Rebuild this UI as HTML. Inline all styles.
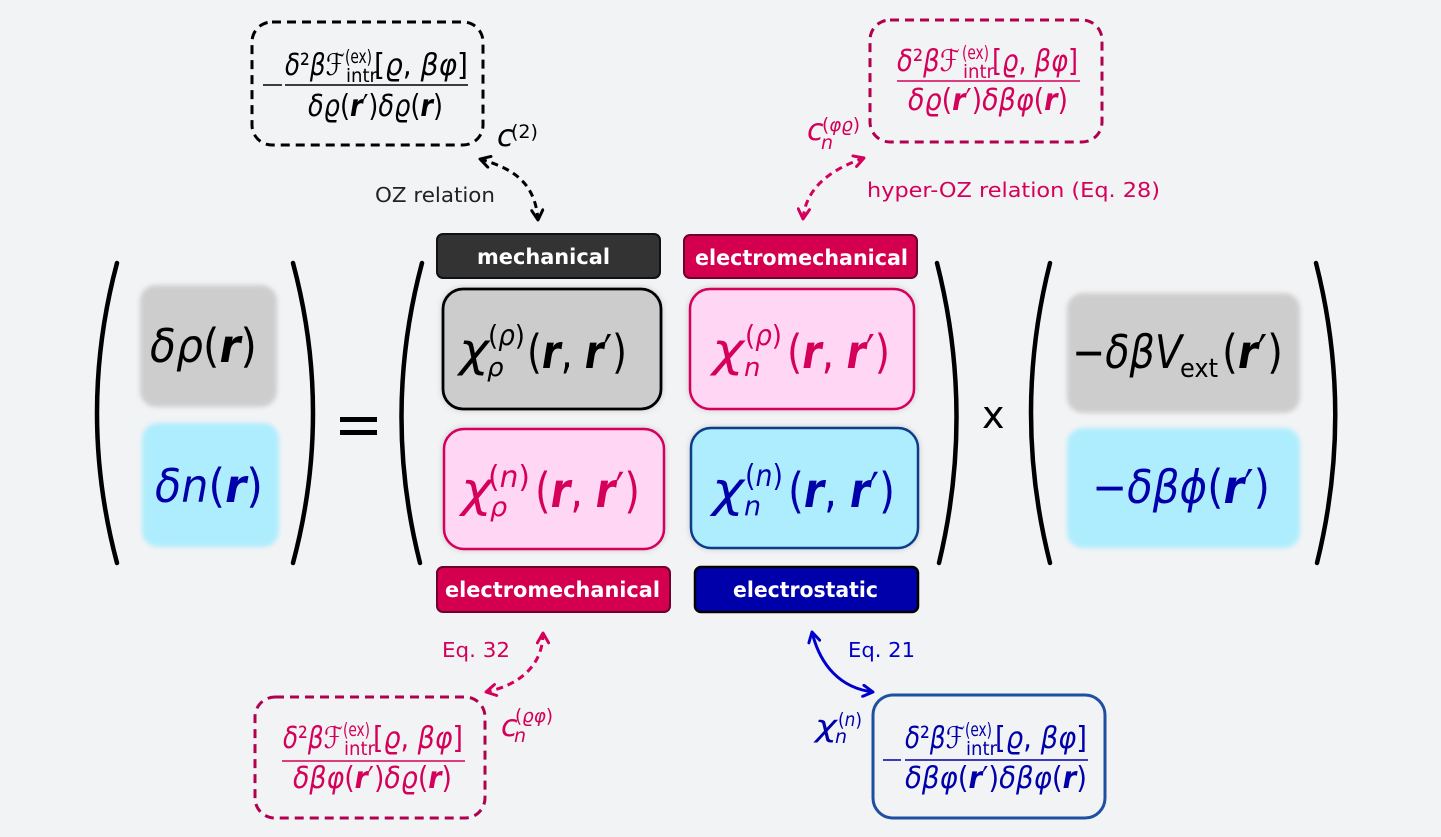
<!DOCTYPE html>
<html>
<head>
<meta charset="utf-8">
<style>
  html,body{margin:0;padding:0;background:#f2f3f5;}
  svg{display:block;}
  text{font-family:"DejaVu Sans","Liberation Sans",sans-serif;}
  .i{font-style:italic;}
  .bi{font-style:italic;font-weight:bold;}
  .lb{font-weight:bold;fill:#fff;font-size:21px;}
</style>
</head>
<body>
<svg width="1441" height="837" viewBox="0 0 1441 837" xmlns="http://www.w3.org/2000/svg">
  <defs>
    <filter id="bl" x="-10%" y="-10%" width="120%" height="120%">
      <feGaussianBlur stdDeviation="2.5"/>
    </filter>
    <filter id="sh" x="-10%" y="-10%" width="120%" height="120%">
      <feDropShadow dx="0" dy="0" stdDeviation="3" flood-color="#000" flood-opacity="0.18"/>
    </filter>
    <marker id="mk" viewBox="0 0 10 10" refX="8.5" refY="5" markerWidth="14" markerHeight="14" markerUnits="userSpaceOnUse" orient="auto-start-reverse">
      <path d="M1.5,1 L8.5,5 L1.5,9" fill="none" stroke="#000" stroke-width="2.1" stroke-dasharray="none" stroke-linecap="round" stroke-linejoin="round"/>
    </marker>
    <marker id="mc" viewBox="0 0 10 10" refX="8.5" refY="5" markerWidth="14" markerHeight="14" markerUnits="userSpaceOnUse" orient="auto-start-reverse">
      <path d="M1.5,1 L8.5,5 L1.5,9" fill="none" stroke="#d4005a" stroke-width="2.1" stroke-dasharray="none" stroke-linecap="round" stroke-linejoin="round"/>
    </marker>
    <marker id="mb" viewBox="0 0 10 10" refX="8.5" refY="5" markerWidth="14" markerHeight="14" markerUnits="userSpaceOnUse" orient="auto-start-reverse">
      <path d="M1.5,1 L8.5,5 L1.5,9" fill="none" stroke="#0000cc" stroke-width="2.1" stroke-dasharray="none" stroke-linecap="round" stroke-linejoin="round"/>
    </marker>
  </defs>

  <rect x="0" y="0" width="1441" height="837" fill="#f2f3f5"/>

  <!-- ===== Big parentheses ===== -->
  <g fill="none" stroke="#000" stroke-width="4.5" stroke-linecap="round">
    <path d="M117,263 Q77,413 117,563"/>
    <path d="M293,263 Q333,413 293,563"/>
    <path d="M422,263 Q382,413 420,563"/>
    <path d="M937,263 Q975,413 939,563"/>
    <path d="M1050,263 Q1012,413 1050,563"/>
    <path d="M1316,263 Q1354,413 1317,563"/>
  </g>

  <!-- ===== Left vector ===== -->
  <rect x="140" y="285" width="137" height="122" rx="16" fill="#cdcdcd" filter="url(#bl)"/>
  <rect x="142" y="423" width="137" height="124" rx="16" fill="#aeedfd" filter="url(#bl)"/>
  <text x="150" y="362" font-size="46" fill="#000" textLength="107" lengthAdjust="spacingAndGlyphs"><tspan class="i">δρ</tspan>(<tspan class="bi">r</tspan>)</text>
  <text x="155" y="502" font-size="46" fill="#0000aa" textLength="108" lengthAdjust="spacingAndGlyphs"><tspan class="i">δn</tspan>(<tspan class="bi">r</tspan>)</text>

  <!-- equals -->
  <rect x="340" y="417" width="37" height="5" fill="#000"/>
  <rect x="340" y="430" width="37" height="5" fill="#000"/>

  <!-- x -->
  <text x="982" y="428" font-size="38" fill="#000">x</text>

  <!-- ===== Right vector ===== -->
  <rect x="1067" y="293" width="233" height="120" rx="16" fill="#cdcdcd" filter="url(#bl)"/>
  <rect x="1067" y="428" width="233" height="120" rx="16" fill="#aeedfd" filter="url(#bl)"/>
  <text x="1072" y="368" font-size="46" fill="#000" textLength="110" lengthAdjust="spacingAndGlyphs">−<tspan class="i">δβV</tspan></text>
  <text x="1180" y="377" font-size="26" fill="#000" textLength="38" lengthAdjust="spacingAndGlyphs">ext</text>
  <text x="1222" y="368" font-size="46" fill="#000" textLength="61" lengthAdjust="spacingAndGlyphs">(<tspan class="bi">r</tspan>′)</text>
  <text x="1092" y="503" font-size="46" fill="#0000aa" textLength="178" lengthAdjust="spacingAndGlyphs">−<tspan class="i">δβϕ</tspan>(<tspan class="bi">r</tspan>′)</text>

  <!-- ===== Matrix labels ===== -->
  <rect x="437" y="234" width="223" height="44" rx="6" fill="#333333" stroke="#111" stroke-width="2"/>
  <text class="lb" x="477" y="264" textLength="133" lengthAdjust="spacingAndGlyphs">mechanical</text>

  <rect x="684" y="235" width="233" height="43" rx="6" fill="#d4004f" stroke="#6e0030" stroke-width="2"/>
  <text class="lb" x="695" y="265" textLength="213" lengthAdjust="spacingAndGlyphs">electromechanical</text>

  <rect x="437" y="567" width="233" height="45" rx="6" fill="#d4004f" stroke="#6e0030" stroke-width="2"/>
  <text class="lb" x="445" y="597" textLength="215" lengthAdjust="spacingAndGlyphs">electromechanical</text>

  <rect x="695" y="567" width="223" height="45" rx="6" fill="#0000aa" stroke="#000" stroke-width="2.5"/>
  <text class="lb" x="733" y="597" textLength="145" lengthAdjust="spacingAndGlyphs">electrostatic</text>

  <!-- ===== Matrix cells ===== -->
  <rect x="443" y="289" width="218" height="120" rx="20" fill="#cccccc" stroke="#000" stroke-width="2.8" filter="url(#sh)"/>
  <rect x="690" y="289" width="224" height="120" rx="20" fill="#ffd6f4" stroke="#d4005a" stroke-width="2.5" filter="url(#sh)"/>
  <rect x="444" y="429" width="220" height="120" rx="20" fill="#ffd6f4" stroke="#d4005a" stroke-width="2.5" filter="url(#sh)"/>
  <rect x="691" y="428" width="227" height="120" rx="20" fill="#aeedfd" stroke="#0d3d8a" stroke-width="2.5" filter="url(#sh)"/>

  <!-- cell 1 -->
  <g fill="#000">
    <text x="459" y="366" font-size="46" class="i" textLength="30" lengthAdjust="spacingAndGlyphs">χ</text>
    <text x="488" y="345" font-size="28" textLength="37" lengthAdjust="spacingAndGlyphs">(<tspan class="i">ρ</tspan>)</text>
    <text x="487" y="376" font-size="26" class="i">ρ</text>
    <text x="527" y="368" font-size="46" textLength="100" lengthAdjust="spacingAndGlyphs">(<tspan class="bi">r</tspan>, <tspan class="bi">r</tspan>′)</text>
  </g>
  <!-- cell 2 -->
  <g fill="#d4005a">
    <text x="712" y="366" font-size="46" class="i" textLength="32" lengthAdjust="spacingAndGlyphs">χ</text>
    <text x="745" y="345" font-size="28" textLength="37" lengthAdjust="spacingAndGlyphs">(<tspan class="i">ρ</tspan>)</text>
    <text x="744" y="376" font-size="26" class="i">n</text>
    <text x="787" y="368" font-size="46" textLength="103" lengthAdjust="spacingAndGlyphs">(<tspan class="bi">r</tspan>, <tspan class="bi">r</tspan>′)</text>
  </g>
  <!-- cell 3 -->
  <g fill="#d4005a">
    <text x="461" y="506" font-size="48" class="i" textLength="31" lengthAdjust="spacingAndGlyphs">χ</text>
    <text x="488" y="487" font-size="30" textLength="42" lengthAdjust="spacingAndGlyphs">(<tspan class="i">n</tspan>)</text>
    <text x="490" y="516" font-size="27" class="i">ρ</text>
    <text x="535" y="507" font-size="48" textLength="105" lengthAdjust="spacingAndGlyphs">(<tspan class="bi">r</tspan>, <tspan class="bi">r</tspan>′)</text>
  </g>
  <!-- cell 4 -->
  <g fill="#0000aa">
    <text x="712" y="506" font-size="48" class="i" textLength="32" lengthAdjust="spacingAndGlyphs">χ</text>
    <text x="745" y="486" font-size="30" textLength="38" lengthAdjust="spacingAndGlyphs">(<tspan class="i">n</tspan>)</text>
    <text x="744" y="515" font-size="27" class="i">n</text>
    <text x="788" y="507" font-size="48" textLength="107" lengthAdjust="spacingAndGlyphs">(<tspan class="bi">r</tspan>, <tspan class="bi">r</tspan>′)</text>
  </g>

  <!-- ===== Top-left dashed box ===== -->
  <rect x="252" y="22" width="231" height="123" rx="20" fill="none" stroke="#000" stroke-width="3" stroke-dasharray="9 6"/>
  <g fill="#000">
    <text x="285" y="75" font-size="30" textLength="60" lengthAdjust="spacingAndGlyphs"><tspan class="i">δ</tspan>²<tspan class="i">β</tspan>ℱ</text>
    <text x="345" y="63" font-size="19" textLength="27" lengthAdjust="spacingAndGlyphs">(ex)</text>
    <text x="346" y="82" font-size="19" textLength="31" lengthAdjust="spacingAndGlyphs">intr</text>
    <text x="374" y="75" font-size="30" textLength="94" lengthAdjust="spacingAndGlyphs">[<tspan class="i">ϱ</tspan>, <tspan class="i">βφ</tspan>]</text>
    <text x="308" y="116" font-size="30" textLength="135" lengthAdjust="spacingAndGlyphs"><tspan class="i">δϱ</tspan>(<tspan class="bi">r</tspan>′)<tspan class="i">δϱ</tspan>(<tspan class="bi">r</tspan>)</text>
  </g>
  <line x1="285" y1="85" x2="468" y2="85" stroke="#000" stroke-width="1.6"/>
  <line x1="263" y1="85" x2="282" y2="85" stroke="#000" stroke-width="1.6"/>

  <!-- c(2) label -->
  <text x="497" y="146" font-size="30" class="i" fill="#000">c</text>
  <text x="511" y="138" font-size="19" fill="#000" textLength="27" lengthAdjust="spacingAndGlyphs">(2)</text>
  <text x="375" y="202" font-size="20" fill="#222" textLength="120" lengthAdjust="spacingAndGlyphs">OZ relation</text>
  <path d="M480,159 C510,168 535,180 538,220" fill="none" stroke="#000" stroke-width="3" stroke-dasharray="7 5" marker-start="url(#mk)" marker-end="url(#mk)"/>

  <!-- ===== Top-right dashed box ===== -->
  <rect x="870" y="20" width="232" height="122" rx="20" fill="none" stroke="#b0004f" stroke-width="3" stroke-dasharray="9 6"/>
  <g fill="#d4005a">
    <text x="897" y="71" font-size="30" textLength="63" lengthAdjust="spacingAndGlyphs"><tspan class="i">δ</tspan>²<tspan class="i">β</tspan>ℱ</text>
    <text x="962" y="59" font-size="19" textLength="27" lengthAdjust="spacingAndGlyphs">(ex)</text>
    <text x="963" y="78" font-size="19" textLength="31" lengthAdjust="spacingAndGlyphs">intr</text>
    <text x="992" y="71" font-size="30" textLength="86" lengthAdjust="spacingAndGlyphs">[<tspan class="i">ϱ</tspan>, <tspan class="i">βφ</tspan>]</text>
    <text x="908" y="110" font-size="30" textLength="160" lengthAdjust="spacingAndGlyphs"><tspan class="i">δϱ</tspan>(<tspan class="bi">r</tspan>′)<tspan class="i">δβφ</tspan>(<tspan class="bi">r</tspan>)</text>
  </g>
  <line x1="897" y1="81" x2="1080" y2="81" stroke="#d4005a" stroke-width="1.6"/>

  <text x="807" y="140" font-size="30" class="i" fill="#d4005a">c</text>
  <text x="821" y="149" font-size="19" class="i" fill="#d4005a">n</text>
  <text x="822" y="131" font-size="19" fill="#d4005a" textLength="38" lengthAdjust="spacingAndGlyphs">(<tspan class="i">φϱ</tspan>)</text>
  <text x="867" y="197" font-size="20" fill="#d4005a" textLength="293" lengthAdjust="spacingAndGlyphs">hyper-OZ relation (Eq. 28)</text>
  <path d="M864,158 C835,168 806,185 803,219" fill="none" stroke="#d4005a" stroke-width="3" stroke-dasharray="7 5" marker-start="url(#mc)" marker-end="url(#mc)"/>

  <!-- ===== Bottom-left dashed box ===== -->
  <rect x="255" y="697" width="230" height="121" rx="20" fill="none" stroke="#b0004f" stroke-width="3" stroke-dasharray="9 6"/>
  <g fill="#d4005a">
    <text x="283" y="748" font-size="30" textLength="60" lengthAdjust="spacingAndGlyphs"><tspan class="i">δ</tspan>²<tspan class="i">β</tspan>ℱ</text>
    <text x="343" y="736" font-size="19" textLength="27" lengthAdjust="spacingAndGlyphs">(ex)</text>
    <text x="344" y="755" font-size="19" textLength="31" lengthAdjust="spacingAndGlyphs">intr</text>
    <text x="373" y="748" font-size="30" textLength="90" lengthAdjust="spacingAndGlyphs">[<tspan class="i">ϱ</tspan>, <tspan class="i">βφ</tspan>]</text>
    <text x="293" y="788" font-size="30" textLength="159" lengthAdjust="spacingAndGlyphs"><tspan class="i">δβφ</tspan>(<tspan class="bi">r</tspan>′)<tspan class="i">δϱ</tspan>(<tspan class="bi">r</tspan>)</text>
  </g>
  <line x1="282" y1="761" x2="465" y2="761" stroke="#d4005a" stroke-width="1.6"/>

  <text x="501" y="736" font-size="30" class="i" fill="#d4005a">c</text>
  <text x="514" y="742" font-size="19" class="i" fill="#d4005a">n</text>
  <text x="515" y="722" font-size="19" fill="#d4005a" textLength="38" lengthAdjust="spacingAndGlyphs">(<tspan class="i">ϱφ</tspan>)</text>
  <text x="442" y="657" font-size="20" fill="#d4005a" textLength="68" lengthAdjust="spacingAndGlyphs">Eq. 32</text>
  <path d="M543,633 C543,665 520,685 486,692" fill="none" stroke="#d4005a" stroke-width="3" stroke-dasharray="7 5" marker-start="url(#mc)" marker-end="url(#mc)"/>

  <!-- ===== Bottom-right solid box ===== -->
  <rect x="873" y="695" width="232" height="123" rx="20" fill="none" stroke="#1e4fa0" stroke-width="3"/>
  <g fill="#0000aa">
    <text x="905" y="748" font-size="30" textLength="60" lengthAdjust="spacingAndGlyphs"><tspan class="i">δ</tspan>²<tspan class="i">β</tspan>ℱ</text>
    <text x="965" y="736" font-size="19" textLength="27" lengthAdjust="spacingAndGlyphs">(ex)</text>
    <text x="966" y="755" font-size="19" textLength="31" lengthAdjust="spacingAndGlyphs">intr</text>
    <text x="995" y="748" font-size="30" textLength="92" lengthAdjust="spacingAndGlyphs">[<tspan class="i">ϱ</tspan>, <tspan class="i">βφ</tspan>]</text>
    <text x="905" y="788" font-size="30" textLength="182" lengthAdjust="spacingAndGlyphs"><tspan class="i">δβφ</tspan>(<tspan class="bi">r</tspan>′)<tspan class="i">δβφ</tspan>(<tspan class="bi">r</tspan>)</text>
  </g>
  <line x1="905" y1="760" x2="1088" y2="760" stroke="#0000aa" stroke-width="1.6"/>
  <line x1="883" y1="760" x2="901" y2="760" stroke="#0000aa" stroke-width="1.6"/>

  <text x="815" y="736" font-size="30" class="i" fill="#0000aa" textLength="22" lengthAdjust="spacingAndGlyphs">χ</text>
  <text x="835" y="743" font-size="19" class="i" fill="#0000aa">n</text>
  <text x="838" y="726" font-size="19" fill="#0000aa" textLength="24" lengthAdjust="spacingAndGlyphs">(<tspan class="i">n</tspan>)</text>
  <text x="848" y="657" font-size="20" fill="#0000cc" textLength="67" lengthAdjust="spacingAndGlyphs">Eq. 21</text>
  <path d="M812,632 C820,665 840,688 873,692" fill="none" stroke="#0000cc" stroke-width="3" marker-start="url(#mb)" marker-end="url(#mb)"/>
</svg>
</body>
</html>
